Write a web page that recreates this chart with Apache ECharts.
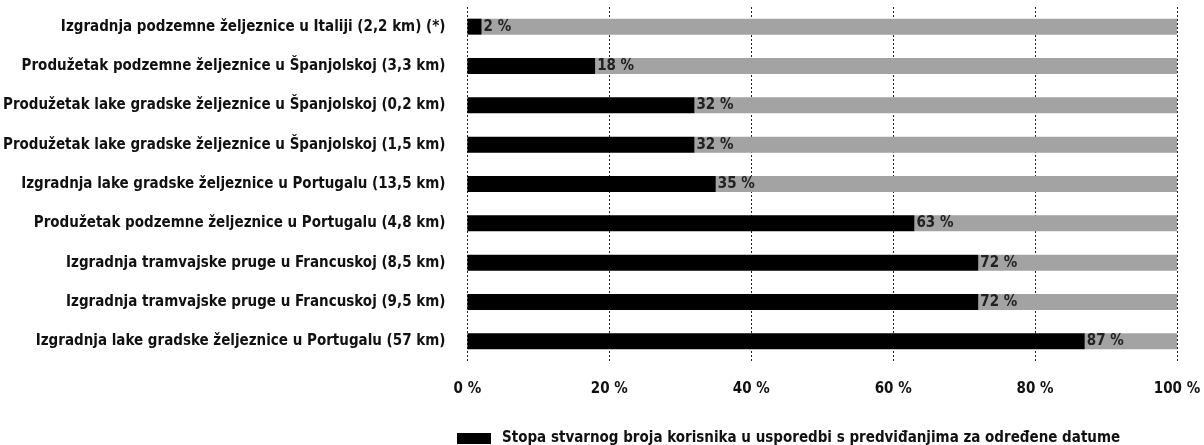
<!DOCTYPE html>
<html><head><meta charset="utf-8">
<script src="https://cdn.jsdelivr.net/npm/echarts@6/dist/echarts.min.js"></script>
<style>html,body{margin:0;padding:0;background:#fff}#c{width:1204px;height:445px}</style>
</head><body><div id="c"></div>
<script>
const categories = [
  "Izgradnja podzemne željeznice u Italiji (2,2 km) (*)",
  "Produžetak podzemne željeznice u Španjolskoj (3,3 km)",
  "Produžetak lake gradske željeznice u Španjolskoj (0,2 km)",
  "Produžetak lake gradske željeznice u Španjolskoj (1,5 km)",
  "Izgradnja lake gradske željeznice u Portugalu (13,5 km)",
  "Produžetak podzemne željeznice u Portugalu (4,8 km)",
  "Izgradnja tramvajske pruge u Francuskoj (8,5 km)",
  "Izgradnja tramvajske pruge u Francuskoj (9,5 km)",
  "Izgradnja lake gradske željeznice u Portugalu (57 km)"
];
const actualRate = [2, 18, 32, 32, 35, 63, 72, 72, 87];
const total = 100;
const xTicks = [0, 20, 40, 60, 80, 100];
const seriesName = "Stopa stvarnog broja korisnika u usporedbi s predviđanjima za određene datume";

const remainder = actualRate.map(v => total - v);
const FONT = "'Liberation Sans Narrow','DejaVu Sans Condensed','Noto Sans',sans-serif";

const chart = echarts.init(document.getElementById('c'));
chart.setOption({
  animation: false,
  grid: {left: 465, right: 27, top: 7, bottom: 84, containLabel: false},
  xAxis: {
    type: 'value', min: 0, max: 100, interval: 20,
    axisLine: {show: false}, axisTick: {show: false},
    splitLine: {show: true, lineStyle: {color: '#222', type: [2, 2], width: 1}},
    axisLabel: {formatter: v => v + ' %', color: '#111', fontFamily: FONT, fontWeight: 'bold', fontSize: 15, margin: 21}
  },
  yAxis: {
    type: 'category', data: categories, inverse: true,
    axisLine: {show: false}, axisTick: {show: false},
    axisLabel: {color: '#111', fontFamily: FONT, fontWeight: 'bold', fontSize: 15, margin: 22}
  },
  legend: {
    show: true, data: [seriesName], left: 452, top: 426,
    icon: 'rect', itemWidth: 34, itemHeight: 11, itemGap: 10,
    textStyle: {color: '#111', fontFamily: FONT, fontWeight: 'bold', fontSize: 15, padding: [0, 0, 0, 6]}
  },
  series: [
    {
      name: seriesName, type: 'bar', stack: 's', data: actualRate, barWidth: 16,
      itemStyle: {color: '#000'},
      label: {show: true, position: 'right', distance: 2, formatter: p => p.value + ' %',
        color: '#222', fontFamily: FONT, fontWeight: 'bold', fontSize: 15},
      z: 3
    },
    {
      name: 'rest', type: 'bar', stack: 's', data: remainder, barWidth: 16,
      itemStyle: {color: '#a3a3a3'}, z: 2
    }
  ]
});
</script></body></html>
